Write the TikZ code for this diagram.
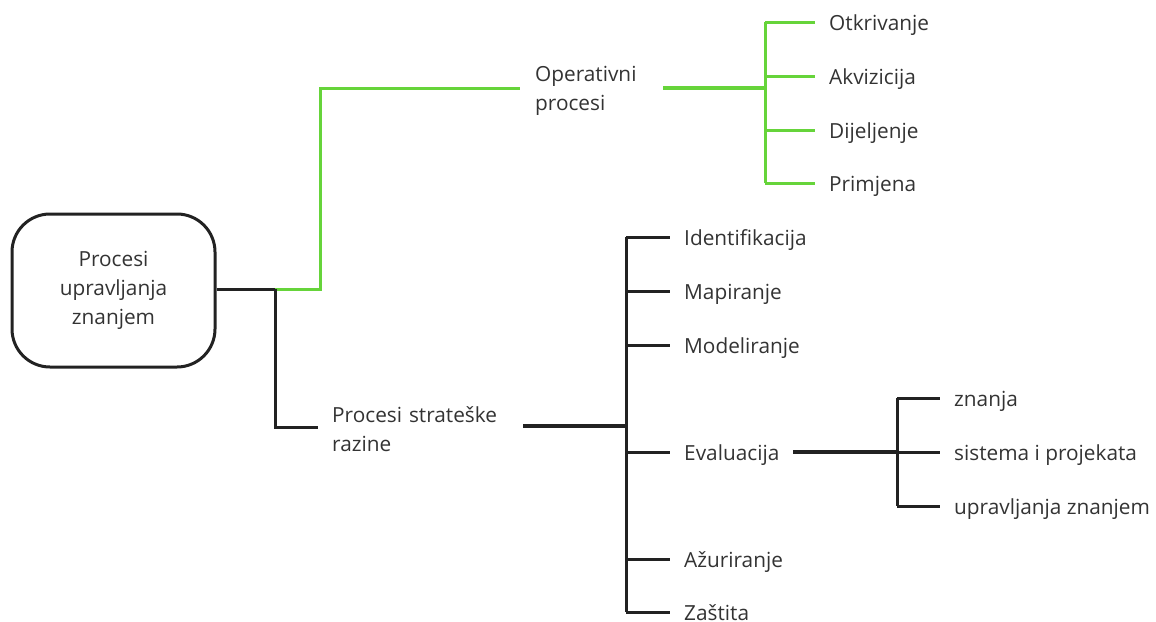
\documentclass[tikz,border=0pt]{standalone}
\usepackage{fontspec}
\setmainfont{Open Sans}
\definecolor{gline}{RGB}{102,212,58}
\definecolor{bline}{RGB}{34,34,34}
\definecolor{txt}{RGB}{51,51,51}
\begin{document}
\begin{tikzpicture}[x=1pt,y=-1pt,
  font=\fontsize{20.8}{29}\selectfont,
  lbl/.style={anchor=west,inner xsep=14pt,inner ysep=0pt,text=txt,align=left},
  one/.style={text height=21pt,text depth=5pt},
  rootbox/.style={draw=bline,line width=3pt,rounded corners=38pt,minimum width=203pt,minimum height=153pt,align=center,text=txt},
  gthin/.style={draw=gline,line width=3pt},
  gthick/.style={draw=gline,line width=4.2pt},
  bthin/.style={draw=bline,line width=3pt},
  bthick/.style={draw=bline,line width=4.2pt}]
\useasboundingbox (0,0) rectangle (1156,621);
% root
\node[rootbox] (root) at (113.5,290.5) {Procesi\\upravljanja\\znanjem};
\coordinate (j0) at (275,289);
\coordinate (jg) at (320,289);
% operative
\node[lbl,inner xsep=15pt,text width=113pt] (op) at (520,90.5) {Operativni\\procesi};
\coordinate (vo) at (765,88);
\node[lbl,one] (otk) at (815,22) {Otkrivanje};
\node[lbl,one] (akv) at (815,76) {Akvizicija};
\node[lbl,one] (dij) at (815,130) {Dijeljenje};
\node[lbl,one] (pri) at (815,183) {Primjena};
% strategic
\node[lbl,text width=177pt] (st) at (318,429.5) {Procesi strateške\\razine};
\coordinate (vs) at (626,426);
\node[lbl,one] (ide) at (670,237) {Identifikacija};
\node[lbl,one] (map) at (670,291) {Mapiranje};
\node[lbl,one] (mod) at (670,345) {Modeliranje};
\node[lbl,one,text width=95pt] (eva) at (670,452) {Evaluacija};
\node[lbl,one] (azu) at (670,559) {Ažuriranje};
\node[lbl,one] (zas) at (670,612) {Zaštita};
\coordinate (ve) at (897,452);
\node[lbl,one] (zn) at (940,398) {znanja};
\node[lbl,one] (sis) at (940,452) {sistema i projekata};
\node[lbl,one] (upr) at (940,506) {upravljanja znanjem};
% connectors
\draw[bthin] (root.east |- j0) -- (j0);
\draw[gthin] (j0) -- (jg) |- (op.west |- vo);
\draw[bthin] (j0) |- (st.west |- 0,427);
\draw[gthick] (op.east |- vo) -- (vo);
\draw[gthin] (vo |- otk.west) -- (vo |- pri.west);
\foreach \n in {otk,akv,dij,pri} \draw[gthin] (vo |- \n.west) -- (\n.west);
\draw[bthick] (st.east |- vs) -- (vs);
\draw[bthin] (vs |- ide.west) -- (vs |- zas.west);
\foreach \n in {ide,map,mod,eva,azu,zas} \draw[bthin] (vs |- \n.west) -- (\n.west);
\draw[bthick] (eva.east) -- (ve);
\draw[bthin] (ve |- zn.west) -- (ve |- upr.west);
\foreach \n in {zn,sis,upr} \draw[bthin] (ve |- \n.west) -- (\n.west);
\end{tikzpicture}
\end{document}
